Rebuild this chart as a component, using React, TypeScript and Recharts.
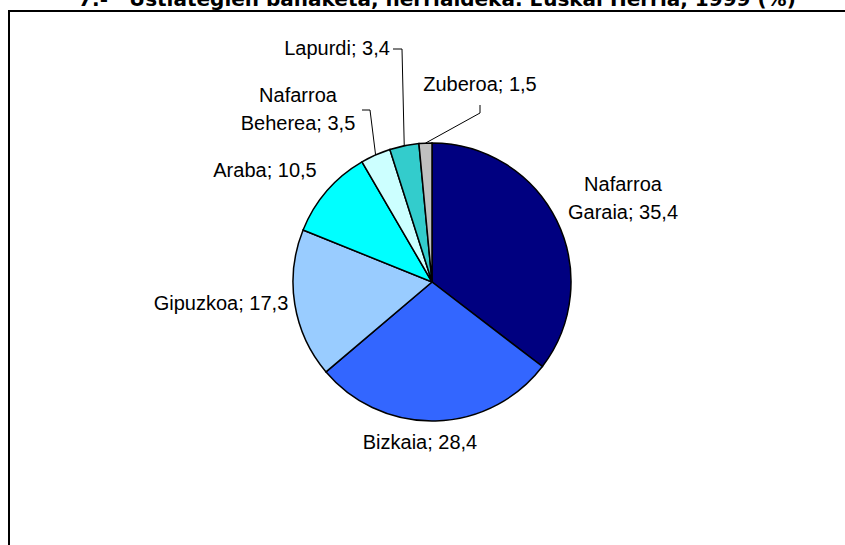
import { PieChart, Pie, Cell } from 'recharts'

const regions = ['Nafarroa Garaia', 'Bizkaia', 'Gipuzkoa', 'Araba', 'Nafarroa Beherea', 'Lapurdi', 'Zuberoa']
const shares = [35.4, 28.4, 17.3, 10.5, 3.5, 3.4, 1.5]
const colors = ['#000080', '#3366ff', '#99ccff', '#00ffff', '#ccffff', '#33cccc', '#c0c0c0']

const TITLE = '7.-   Ustiategien banaketa, herrialdeka. Euskal Herria, 1999 (%)'

// label placement relative to pie centre (text block centre), plus optional leader start/elbow
const labelLayout: Array<{ dx: number; dy: number; lead?: [number, number, number, number] }> = [
  { dx: 191, dy: -84 },
  { dx: -12, dy: 160 },
  { dx: -211, dy: 21 },
  { dx: -167, dy: -112 },
  { dx: -134, dy: -173, lead: [-70, -172, -62, -172] },
  { dx: -95, dy: -234, lead: [-39, -233, -30, -233] },
  { dx: 48, dy: -198, lead: [48, -177, 48, -169] },
]

const data = regions.map((name, i) => ({ name, value: shares[i] }))

const FONT = '"Liberation Sans", Arial, sans-serif'
const FS = 20
const LH = 28

function fmt(v: number) {
  return v.toFixed(1).replace('.', ',')
}

function renderLabel(props: any) {
  const { cx, cy, midAngle, outerRadius, index, value } = props
  const lay = labelLayout[index]
  const name = regions[index]
  const sp = name.indexOf(' ')
  const lines = sp > 0 ? [name.slice(0, sp), `${name.slice(sp + 1)}; ${fmt(value)}`] : [`${name}; ${fmt(value)}`]
  const x = cx + lay.dx
  const y0 = cy + lay.dy - ((lines.length - 1) * LH) / 2
  const rad = (-midAngle * Math.PI) / 180
  const ex = cx + outerRadius * Math.cos(rad)
  const ey = cy + outerRadius * Math.sin(rad)
  return (
    <g key={`lbl-${index}`}>
      {lay.lead && (
        <polyline
          points={`${cx + lay.lead[0]},${cy + lay.lead[1]} ${cx + lay.lead[2]},${cy + lay.lead[3]} ${ex},${ey}`}
          fill="none"
          stroke="#000"
          strokeWidth={1}
        />
      )}
      {lines.map((ln, k) => (
        <text
          key={k}
          x={x}
          y={y0 + k * LH + FS * 0.36}
          textAnchor="middle"
          fontFamily={FONT}
          fontSize={FS}
          fill="#000"
        >
          {ln}
        </text>
      ))}
    </g>
  )
}

export default function App() {
  return (
    <div style={{ position: 'absolute', left: 0, top: 0, width: 845, height: 545, overflow: 'hidden', background: '#fff' }}>
      <div
        style={{
          position: 'absolute', left: 8, top: 10, width: 900, height: 600,
          border: '2px solid #000', boxSizing: 'border-box',
        }}
      />
      <svg width={845} height={20} style={{ position: 'absolute', left: 0, top: 0 }}>
        <text
          x={437}
          y={6}
          textAnchor="middle"
          fontFamily='"DejaVu Sans", Verdana, sans-serif'
          fontWeight="bold"
          fontSize={20}
          fill="#000"
          style={{ whiteSpace: 'pre' }}
        >
          {TITLE}
        </text>
      </svg>
      <div style={{ position: 'absolute', left: 0, top: 0 }}>
        <PieChart width={845} height={545} margin={{ top: 0, right: 0, bottom: 0, left: 0 }}>
          <Pie
            data={data}
            dataKey="value"
            nameKey="name"
            cx={432}
            cy={282}
            outerRadius={139}
            startAngle={90}
            endAngle={-270}
            stroke="#000"
            strokeWidth={1.5}
            labelLine={false}
            label={renderLabel}
            isAnimationActive={false}
          >
            {data.map((d, i) => (
              <Cell key={d.name} fill={colors[i]} />
            ))}
          </Pie>
        </PieChart>
      </div>
    </div>
  )
}
